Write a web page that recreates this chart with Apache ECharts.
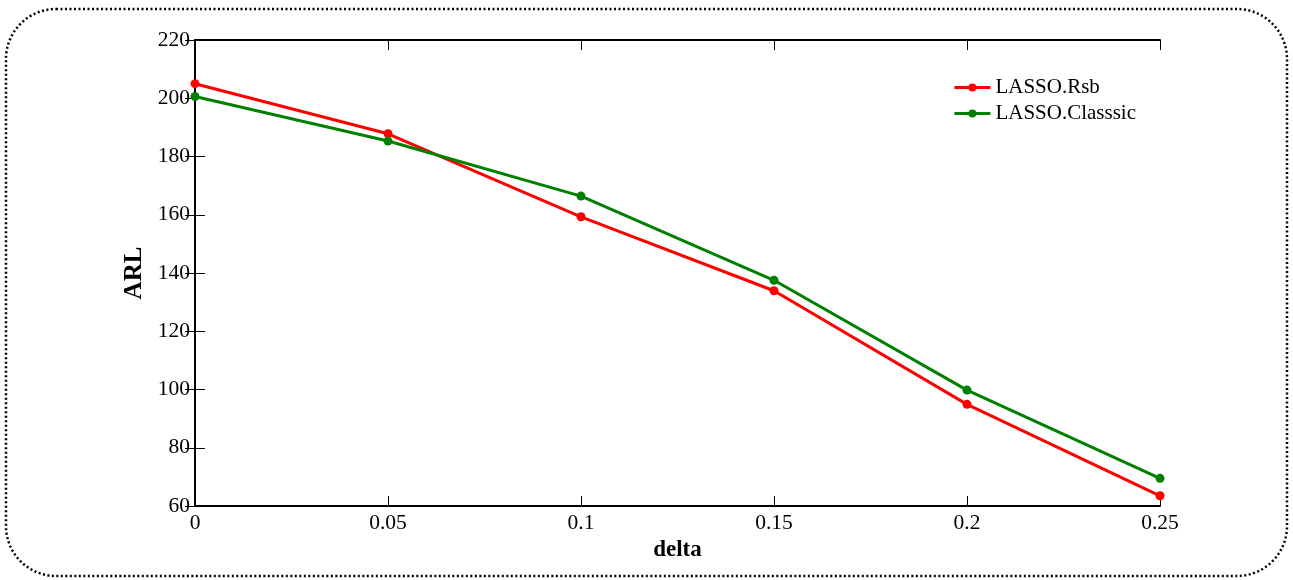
<!DOCTYPE html>
<html>
<head>
<meta charset="utf-8">
<script src="https://cdn.jsdelivr.net/npm/echarts@6/dist/echarts.min.js"></script>
<style>
html,body{margin:0;padding:0;background:#fff;}
#c{width:1293px;height:580px;}
</style>
</head>
<body>
<div id="c"></div>
<script>
const deltas = [0, 0.05, 0.1, 0.15, 0.2, 0.25];
const rsb = [205.0, 187.8, 159.3, 133.9, 94.9, 63.5];
const classic = [200.6, 185.3, 166.4, 137.5, 99.8, 69.5];
const seriesNames = ['LASSO.Rsb', 'LASSO.Classsic'];
const colors = ['#ff0000', '#008000'];

const chart = echarts.init(document.getElementById('c'));
const font = 'Liberation Serif, Times New Roman, serif';
const axisLine = {show: true, lineStyle: {color: '#000', width: 2}};
const tick = {show: true, inside: true, length: 10, lineStyle: {color: '#000', width: 1}};

chart.setOption({
  animation: false,
  color: colors,
  textStyle: {fontFamily: font},
  graphic: [{
    type: 'rect',
    shape: {x: 6, y: 9, width: 1281, height: 567, r: 50},
    style: {fill: 'none', stroke: '#000', lineWidth: 2.5, lineDash: [2, 2.5]},
    silent: true
  }],
  grid: {left: 195, right: 133, top: 40, bottom: 74},
  legend: {
    right: 152, top: 72, orient: 'vertical',
    itemWidth: 36, itemHeight: 10, itemGap: 5,
    lineStyle: {width: 3},
    textStyle: {fontFamily: font, fontSize: 21, color: '#000'},
    data: seriesNames
  },
  xAxis: [{
    type: 'value', min: 0, max: 0.25, interval: 0.05,
    name: 'delta', nameLocation: 'middle', nameGap: 30,
    nameTextStyle: {fontFamily: font, fontSize: 23, fontWeight: 'bold', color: '#000'},
    axisLine: axisLine, axisTick: tick, splitLine: {show: false},
    axisLabel: {fontFamily: font, fontSize: 21.5, color: '#000', margin: 6,
      formatter: v => String(+v.toFixed(2))}
  }, {
    type: 'value', min: 0, max: 0.25, interval: 0.05, position: 'top',
    axisLine: axisLine, axisTick: tick, axisLabel: {show: false}, splitLine: {show: false}
  }],
  yAxis: [{
    type: 'value', min: 60, max: 220, interval: 20,
    name: 'ARL', nameLocation: 'middle', nameGap: 42, nameRotate: 90,
    nameTextStyle: {fontFamily: font, fontSize: 25, fontWeight: 'bold', color: '#000'},
    axisLine: axisLine, axisTick: tick, splitLine: {show: false},
    axisLabel: {fontFamily: font, fontSize: 21.5, color: '#000', margin: 5}
  }, {
    type: 'value', min: 60, max: 220, interval: 20, position: 'right',
    axisLine: axisLine, axisTick: tick, axisLabel: {show: false}, splitLine: {show: false}
  }],
  series: [
    {name: seriesNames[0], type: 'line', data: deltas.map((d, i) => [d, rsb[i]]),
     symbol: 'circle', symbolSize: 9, lineStyle: {width: 3, color: colors[0]}, itemStyle: {color: colors[0]}},
    {name: seriesNames[1], type: 'line', data: deltas.map((d, i) => [d, classic[i]]),
     symbol: 'circle', symbolSize: 9, lineStyle: {width: 3, color: colors[1]}, itemStyle: {color: colors[1]}}
  ]
});
</script>
</body>
</html>
